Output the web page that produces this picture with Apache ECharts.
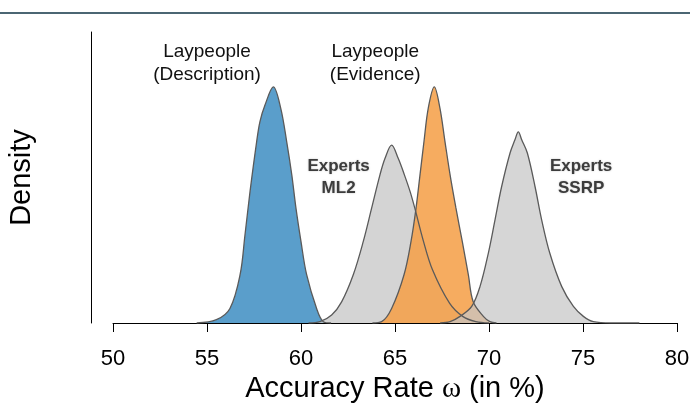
<!DOCTYPE html>
<html>
<head>
<meta charset="utf-8">
<script src="https://cdn.jsdelivr.net/npm/echarts@6/dist/echarts.min.js"></script>
<style>
  html, body { margin: 0; padding: 0; background: #fff; }
  #chart { width: 690px; height: 403px; }
</style>
</head>
<body>
<div id="chart"></div>
<script>
// density curves: [accuracy %, density]
const descriptionCurve = [
  [54.45, 0], [55.5, 0.005], [56.22, 0.022], [56.76, 0.073], [57.02, 0.133],
  [57.29, 0.199], [57.64, 0.274], [57.82, 0.305], [58.09, 0.330], [58.53, 0.357],
  [58.92, 0.325], [59.24, 0.274], [59.51, 0.224], [59.73, 0.174], [60.0, 0.123],
  [60.3, 0.073], [60.83, 0.022], [61.19, 0.002], [61.6, 0]
];
const ml2Curve = [
  [60.4, 0], [61.01, 0.002], [61.63, 0.012], [62.16, 0.032], [62.78, 0.073],
  [63.31, 0.123], [63.76, 0.174], [64.2, 0.224], [64.47, 0.249], [64.82, 0.269],
  [65.17, 0.249], [65.5, 0.224], [65.8, 0.199], [66.05, 0.174], [66.5, 0.125],
  [67.0, 0.080], [67.9, 0.030], [68.6, 0.010], [69.3, 0.002], [70.0, 0]
];
const evidenceCurve = [
  [63.8, 0], [64.29, 0.002], [64.82, 0.022], [65.48, 0.073], [65.85, 0.123],
  [66.12, 0.174], [66.33, 0.224], [66.54, 0.274], [66.77, 0.325], [67.09, 0.357],
  [67.39, 0.325], [67.66, 0.274], [67.93, 0.224], [68.24, 0.174], [68.58, 0.123],
  [68.9, 0.073], [69.16, 0.032], [69.7, 0.010], [70.05, 0.002], [70.4, 0]
];
const ssrpCurve = [
  [67.4, 0], [67.93, 0.002], [68.46, 0.010], [69.08, 0.025], [69.52, 0.055],
  [69.96, 0.105], [70.32, 0.156], [70.67, 0.206], [71.12, 0.257], [71.38, 0.277],
  [71.56, 0.289], [71.74, 0.277], [72.04, 0.257], [72.45, 0.206], [72.8, 0.156],
  [73.24, 0.105], [73.87, 0.055], [74.49, 0.025], [75.02, 0.010], [75.55, 0.002],
  [76.5, 0], [78.0, 0]
];

const groupNames = ['Laypeople\n(Description)', 'Experts\nML2', 'Laypeople\n(Evidence)', 'Experts\nSSRP'];
const labelSpots = [[55.0, 0.392], [62.0, 0.221], [63.95, 0.392], [74.9, 0.221]];
const xMin = 50, xMax = 80, xStep = 5;

const font = 'Liberation Sans, Arial, Helvetica, sans-serif';

function curveSeries(data, fill, opacity, idx, expert) {
  return {
    type: 'line',
    data: data,
    smooth: 0.35,
    symbol: 'none',
    lineStyle: { color: '#5a5a5a', width: 1.3 },
    areaStyle: { color: fill, opacity: opacity },
    markPoint: {
      symbol: 'circle',
      symbolSize: 0,
      silent: true,
      data: [{ coord: labelSpots[idx] }],
      label: {
        show: true,
        position: 'inside',
        formatter: groupNames[idx],
        fontFamily: font,
        fontSize: expert ? 17 : 19,
        fontWeight: expert ? 'bold' : 'normal',
        lineHeight: expert ? 22 : 23,
        color: expert ? '#3c3c3c' : '#111',
        textShadowColor: expert ? 'rgba(0,0,0,0.25)' : 'transparent',
        textShadowBlur: expert ? 2 : 0
      }
    }
  };
}

const chart = echarts.init(document.getElementById('chart'));
chart.setOption({
  animation: false,
  backgroundColor: '#fff',
  graphic: [{
    type: 'rect',
    shape: { x: 0, y: 12, width: 690, height: 2 },
    style: { fill: '#4b6673' }
  }],
  grid: { left: 113, right: 13, top: 32, bottom: 80, containLabel: false, outerBoundsMode: 'none' },
  xAxis: {
    type: 'value',
    min: xMin,
    max: xMax,
    interval: xStep,
    offset: 11,
    name: 'Accuracy Rate {o|ω} (in %)',
    nameLocation: 'middle',
    nameGap: 40,
    nameTextStyle: {
      fontFamily: font, fontSize: 29, color: '#000',
      rich: { o: { fontFamily: 'Liberation Serif, Times New Roman, serif', fontSize: 29, color: '#000' } }
    },
    axisLine: { lineStyle: { color: '#000', width: 1 } },
    axisTick: { show: true, length: 9, lineStyle: { color: '#000' } },
    axisLabel: { fontFamily: font, fontSize: 22, color: '#000', margin: 14 },
    splitLine: { show: false }
  },
  yAxis: {
    type: 'value',
    min: 0,
    max: 0.44,
    offset: 22,
    name: 'Density',
    nameLocation: 'middle',
    nameGap: 55,
    nameTextStyle: { fontFamily: font, fontSize: 29, color: '#000' },
    axisLine: { show: true, lineStyle: { color: '#000', width: 1 } },
    axisTick: { show: false },
    axisLabel: { show: false },
    splitLine: { show: false }
  },
  series: [
    curveSeries(descriptionCurve, '#5a9ecb', 1, 0, false),
    curveSeries(ml2Curve, '#c6c6c6', 0.75, 1, true),
    curveSeries(evidenceCurve, '#f5a04a', 0.88, 2, false),
    curveSeries(ssrpCurve, '#c6c6c6', 0.72, 3, true)
  ]
});
</script>
</body>
</html>
